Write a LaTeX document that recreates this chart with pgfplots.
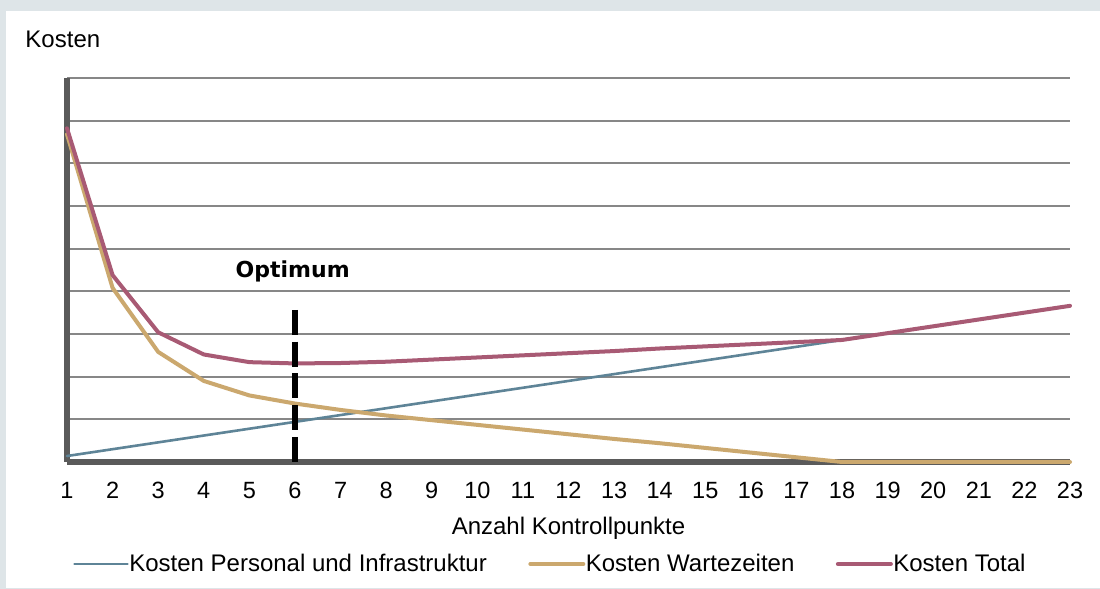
\documentclass[border=0pt]{standalone}
\usepackage{fontspec}
\setmainfont{Liberation Sans}
\newfontfamily\optfont{DejaVu Sans}
\usepackage{pgfplots}
\usepackage{pgfplotstable}
\pgfplotsset{compat=1.18}

\definecolor{panelbg}{HTML}{DEE5E8}
\definecolor{gridgray}{HTML}{878787}
\definecolor{axisgray}{HTML}{5A5A5A}
\definecolor{cpersonal}{HTML}{5E8497}
\definecolor{cwarte}{HTML}{CBA86E}
\definecolor{ctotal}{HTML}{A85A74}

% Kosten je Anzahl Kontrollpunkte
\pgfplotstableread{
x personal warte total
1  0.14 7.68 7.82
2  0.30 4.08 4.38
3  0.46 2.58 3.04
4  0.62 1.90 2.52
5  0.78 1.56 2.34
6  0.94 1.37 2.31
7  1.10 1.22 2.32
8  1.26 1.09 2.35
9  1.42 0.98 2.40
10 1.58 0.87 2.45
11 1.74 0.76 2.50
12 1.90 0.65 2.55
13 2.06 0.54 2.60
14 2.22 0.44 2.66
15 2.38 0.33 2.71
16 2.54 0.22 2.76
17 2.70 0.11 2.81
18 2.86 0.00 2.86
19 3.02 0.00 3.02
20 3.18 0.00 3.18
21 3.34 0.00 3.34
22 3.50 0.00 3.50
23 3.66 0.00 3.66
}\costs

\begin{document}
\begin{tikzpicture}[x=1bp,y=1bp]
% panel background
\fill[panelbg] (0,0) rectangle (1100,589);
\fill[white] (6,1) rectangle (1100,578);
\begin{axis}[
  at={(67bp,127bp)}, anchor=south west,
  scale only axis,
  width=1003bp, height=384bp,
  xmin=1, xmax=23, ymin=0, ymax=9,
  clip=false,
  axis on top=false,
  axis lines*=left,
  x axis line style={line width=5.5bp, color=axisgray},
  y axis line style={line width=5.5bp, color=axisgray},
  xtick={1,...,23},
  ytick={0,...,9},
  yticklabels={},
  major tick length=0pt,
  ymajorgrids,
  major grid style={line width=2bp, color=gridgray},
  /pgf/number format/assume math mode=true,
  xticklabel style={font=\fontsize{23.5bp}{27bp}\selectfont, anchor=base, yshift=-37bp},
  xlabel={Anzahl Kontrollpunkte},
  xlabel style={font=\fontsize{24bp}{28bp}\selectfont, at={(axis description cs:0.5,0)}, anchor=base, yshift=-73bp},
  legend columns=3,
  legend style={draw=none, fill=none, inner sep=0pt,
    at={(axis description cs:0.006,-0.2656)}, anchor=west,
    font=\fontsize{24bp}{28bp}\selectfont,
    /tikz/every even column/.append style={column sep=41bp},
    nodes={inner xsep=0.5bp, inner ysep=0pt}},
  legend image code/.code={\draw[#1] (0bp,0bp) -- (53bp,0bp);},
  every axis plot/.append style={line cap=round, line join=round},
]
\addplot[color=cpersonal, line width=2.6bp] table[x=x, y=personal] {\costs};
\addlegendentry{Kosten Personal und Infrastruktur}
\addplot[color=cwarte, line width=4bp] table[x=x, y=warte] {\costs};
\addlegendentry{Kosten Wartezeiten}
\addplot[color=ctotal, line width=4bp] table[x=x, y=total] {\costs};
\addlegendentry{Kosten Total}
% Optimum marker
\addplot[forget plot, black, line width=6bp, line cap=butt, dash pattern=on 25bp off 6.75bp] coordinates {(6,3.5625) (6,0)};
\node[font=\optfont\bfseries\fontsize{22bp}{26bp}\selectfont, anchor=base] at (axis cs:5.95,4.3125) {Optimum};
\node[font=\fontsize{24bp}{28bp}\selectfont, anchor=base west] at (axis description cs:-0.0449,1.0807) {Kosten};
\end{axis}
\end{tikzpicture}
\end{document}
